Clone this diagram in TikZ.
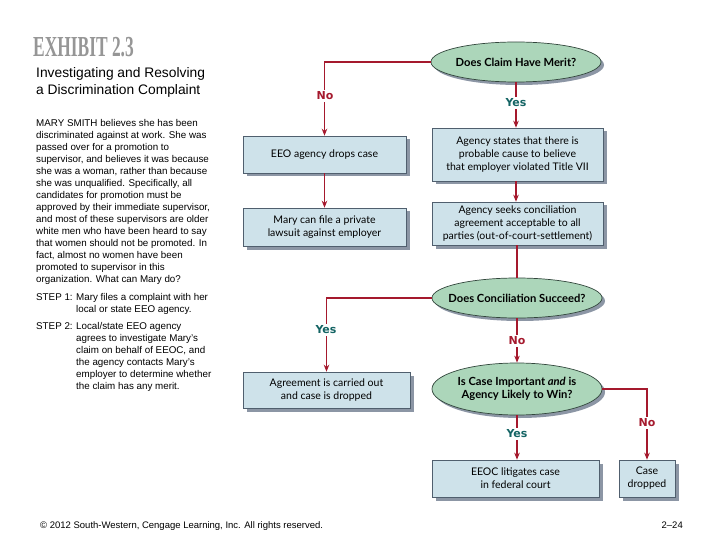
\documentclass[tikz,border=0pt]{standalone}
\usepackage{fontspec}
\setmainfont{Liberation Sans}
\newfontfamily\flowfont{Lato}
\newfontfamily\lblfont{DejaVu Sans}
\newfontfamily\exfont{Liberation Serif}
\usetikzlibrary{shapes.geometric,shadows,arrows.meta}
\definecolor{boxfill}{RGB}{206,226,234}
\definecolor{boxdraw}{RGB}{80,95,110}
\definecolor{shadowc}{RGB}{140,150,165}
\definecolor{ellfill}{RGB}{172,214,186}
\definecolor{elldraw}{RGB}{50,70,60}
\definecolor{arrowred}{RGB}{165,25,45}
\definecolor{yesteal}{RGB}{20,100,100}
\definecolor{exgray}{RGB}{150,150,150}
\tikzset{
  fbox/.style={rectangle, draw=boxdraw, line width=0.6pt, fill=boxfill, inner sep=2pt,
    align=center, font=\flowfont\fontsize{10.5}{13}\selectfont,
    drop shadow={shadow xshift=3.5pt, shadow yshift=-3.5pt, fill=shadowc, opacity=1}},
  fell/.style={ellipse, draw=elldraw, line width=0.7pt, fill=ellfill, inner xsep=-14pt, inner ysep=0pt,
    minimum width=170pt, align=center, font=\flowfont\bfseries\fontsize{11.2}{13}\selectfont,
    drop shadow={shadow xshift=3pt, shadow yshift=-3pt, fill=shadowc, opacity=1}},
  flow/.style={draw=arrowred, line width=1.3pt, -{Stealth[length=7pt,width=5.5pt]}},
  flowline/.style={draw=arrowred, line width=1.3pt},
  yeslbl/.style={fill=white, inner sep=1.5pt, text=yesteal, font=\lblfont\bfseries\fontsize{11}{12}\selectfont},
  nolbl/.style={fill=white, inner sep=1.5pt, text=arrowred, font=\lblfont\bfseries\fontsize{11}{12}\selectfont},
  lefttext/.style={inner sep=0pt, align=left, anchor=north west, font=\fontsize{9.8}{12}\selectfont}
}
\begin{document}
\begin{tikzpicture}[x=1pt,y=-1pt]
\useasboundingbox (0,0) rectangle (720,540);
\fill[white] (0,0) rectangle (720,540);

% left texts
\node[inner sep=0pt, anchor=base west, text=exgray] (exhibit) at (33,57)
  {\scalebox{0.6}[1]{\exfont\bfseries\fontsize{29}{30}\selectfont EXHIBIT 2.3}};
\node[inner sep=0pt, align=left, anchor=base west, font=\fontsize{13.8}{17}\selectfont] (title) at (36,95)
  {Investigating and Resolving\\a Discrimination Complaint};
\node[lefttext] (story) at (36,119)
  {MARY SMITH believes she has been\\
   discriminated against at work. She was\\
   passed over for a promotion to\\
   supervisor, and believes it was because\\
   she was a woman, rather than because\\
   she was unqualified. Specifically, all\\
   candidates for promotion must be\\
   approved by their immediate supervisor,\\
   and most of these supervisors are older\\
   white men who have been heard to say\\
   that women should not be promoted. In\\
   fact, almost no women have been\\
   promoted to supervisor in this\\
   organization. What can Mary do?};
\node[lefttext] (step1) at (36,293)
  {\makebox[40pt][l]{STEP 1:}Mary files a complaint with her\\
   \hspace*{40pt}local or state EEO agency.};
\node[lefttext] (step2) at (36,322)
  {\makebox[40pt][l]{STEP 2:}Local/state EEO agency\\
   \hspace*{40pt}agrees to investigate Mary's\\
   \hspace*{40pt}claim on behalf of EEOC, and\\
   \hspace*{40pt}the agency contacts Mary's\\
   \hspace*{40pt}employer to determine whether\\
   \hspace*{40pt}the claim has any merit.};
\node[inner sep=0pt, anchor=base west, font=\fontsize{9.5}{10}\selectfont] (copy) at (40,528)
  {\textcopyright{} 2012 South-Western, Cengage Learning, Inc. All rights reserved.};
\node[inner sep=0pt, anchor=base east, font=\fontsize{9.5}{10}\selectfont] (page) at (683,528) {2--24};

% flowchart nodes
\node[fell, minimum height=40pt] (merit) at (516,62) {Does Claim Have Merit?};
\node[fbox, minimum width=171pt, minimum height=53pt] (states) at (517.5,154.5)
  {Agency states that there is\\probable cause to believe\\that employer violated Title VII};
\node[fbox, minimum width=163pt, minimum height=37pt] (drops) at (324.5,154.5) {EEO agency drops case};
\node[fbox, minimum width=163pt, minimum height=38pt] (lawsuit) at (324.5,227)
  {Mary can file a private\\lawsuit against employer};
\node[fbox, minimum width=171pt, minimum height=43pt] (seeks) at (517.5,223.5)
  {Agency seeks conciliation\\agreement acceptable to all\\parties (out-of-court-settlement)};
\node[fell, minimum height=40pt] (concil) at (517,298) {Does Conciliation Succeed?};
\node[fbox, minimum width=167pt, minimum height=36pt] (agree) at (326.5,390)
  {Agreement is carried out\\and case is dropped};
\node[fell, minimum height=52pt] (important) at (517,389)
  {Is Case Important \textit{and} is\\Agency Likely to Win?};
\node[fbox, minimum width=167pt, minimum height=37pt] (litigate) at (515.5,478.5)
  {EEOC litigates case\\in federal court};
\node[fbox, minimum width=56pt, minimum height=37pt] (dropped) at (647,478.5)
  {Case\\dropped};

% connectors
\draw[flow] (merit.west) -| (drops.north);
\draw[flow] (merit.south) -- (merit.south |- states.north);
\draw[flow] (drops.south) -- (lawsuit.north);
\draw[flow] (states.south -| merit.south) -- (seeks.north -| merit.south);
\draw[flowline] (seeks.south -| concil.north) -- (concil.north);
\draw[flow] (concil.west) -| (agree.north);
\draw[flow] (concil.south) -- (important.north);
\draw[flow] (important.east) -| (dropped.north);
\draw[flow] (important.south) -- (important.south |- litigate.north);

% labels
\node[nolbl] (no1) at (325,96) {No};
\node[yeslbl] (yes1) at (516,103) {Yes};
\node[yeslbl] (yes2) at (326,330) {Yes};
\node[nolbl] (no2) at (517,341) {No};
\node[nolbl] (no3) at (647,423) {No};
\node[yeslbl] (yes3) at (517,434) {Yes};
\end{tikzpicture}
\end{document}
